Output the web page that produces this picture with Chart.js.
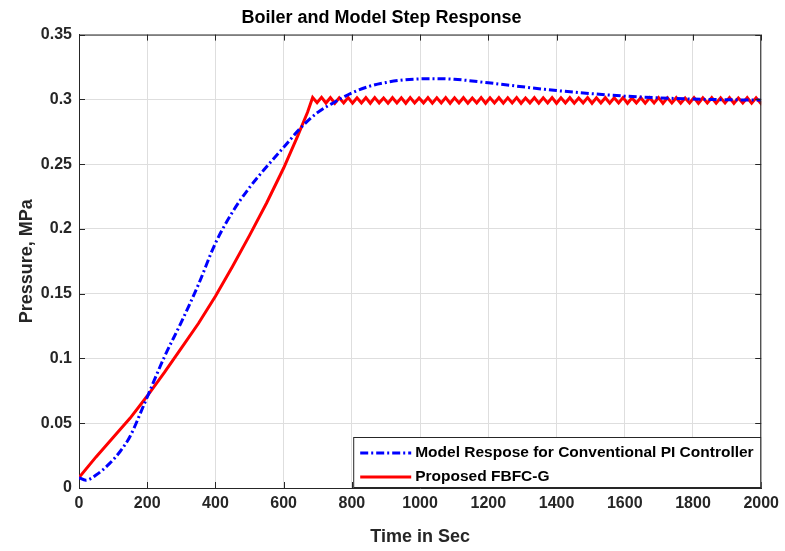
<html><head>
<meta charset="utf-8">
<title>Boiler and Model Step Response</title>
<script src="https://cdn.jsdelivr.net/npm/chart.js"></script>
<style>
body { margin: 0; background: #fff; }
</style>
</head>
<body>
<canvas id="response" width="785" height="551" style="display: block; width: 785px; height: 551px;"></canvas>
<script>
// values
const blueLabel = 'Model Respose for Conventional PI Controller';
const redLabel = 'Proposed FBFC-G';

const blueTime = [0, 20, 50, 90, 120, 150, 190, 250, 300, 350,
    400, 450, 500, 550, 600, 650, 700, 750, 800, 850,
    900, 950, 1000, 1040, 1100, 1200, 1300, 1400, 1500, 1600,
    1700, 1800, 1900, 2000];
const bluePressure = [0.008, 0.006, 0.010, 0.019, 0.028, 0.040, 0.064, 0.101, 0.128, 0.157,
    0.189, 0.213, 0.232, 0.248, 0.263, 0.278, 0.290, 0.298, 0.305, 0.310,
    0.313, 0.315, 0.3158, 0.316, 0.3155, 0.3128, 0.3097, 0.3068, 0.3045, 0.3025,
    0.3012, 0.3002, 0.2997, 0.2995];

const redTime = [0, 50, 100, 150, 200, 250, 300, 350, 400, 450, 500, 550, 600, 640, 670,
    685, 698, 711, 724, 737, 750, 763, 776, 789, 802,
    815, 828, 841, 854, 867, 880, 893, 906, 919, 932,
    945, 958, 971, 984, 997, 1010, 1023, 1036, 1049, 1062,
    1075, 1088, 1101, 1114, 1127, 1140, 1153, 1166, 1179, 1192,
    1205, 1218, 1231, 1244, 1257, 1270, 1283, 1296, 1309, 1322,
    1335, 1348, 1361, 1374, 1387, 1400, 1413, 1426, 1439, 1452,
    1465, 1478, 1491, 1504, 1517, 1530, 1543, 1556, 1569, 1582,
    1595, 1608, 1621, 1634, 1647, 1660, 1673, 1686, 1699, 1712,
    1725, 1738, 1751, 1764, 1777, 1790, 1803, 1816, 1829, 1842,
    1855, 1868, 1881, 1894, 1907, 1920, 1933, 1946, 1959, 1972,
    1985, 1998, 2000];
const redPressure = [0.008, 0.024, 0.039, 0.054, 0.071, 0.089, 0.108, 0.127, 0.148, 0.171, 0.195, 0.220, 0.247, 0.271, 0.290,
    0.3015, 0.2975, 0.3016, 0.2972, 0.3013, 0.2970, 0.3012, 0.2973, 0.3014, 0.2971,
    0.3012, 0.2972, 0.3013, 0.2970, 0.3014, 0.2973, 0.3011, 0.2971, 0.3013, 0.2972,
    0.3012, 0.2970, 0.3014, 0.2972, 0.3011, 0.2973, 0.3013, 0.2971, 0.3012, 0.2972,
    0.3014, 0.2970, 0.3012, 0.2973, 0.3013, 0.2971, 0.3011, 0.2972, 0.3014, 0.2970,
    0.3012, 0.2973, 0.3013, 0.2971, 0.3012, 0.2972, 0.3014, 0.2970, 0.3011, 0.2973,
    0.3013, 0.2971, 0.3012, 0.2972, 0.3014, 0.2970, 0.3012, 0.2973, 0.3013, 0.2971,
    0.3011, 0.2972, 0.3014, 0.2970, 0.3012, 0.2973, 0.3013, 0.2971, 0.3012, 0.2972,
    0.3014, 0.2970, 0.3011, 0.2973, 0.3013, 0.2971, 0.3012, 0.2972, 0.3014, 0.2970,
    0.3012, 0.2973, 0.3013, 0.2971, 0.3011, 0.2972, 0.3014, 0.2970, 0.3012, 0.2973,
    0.3013, 0.2971, 0.3012, 0.2972, 0.3014, 0.2970, 0.3011, 0.2973, 0.3013, 0.2971,
    0.3012, 0.2972, 0.2988];

const FONT = "'Liberation Sans', Arial, sans-serif";
const AXIS_COLOR = '#262626';
const BLUE_DASH = [8, 3, 2, 3];

function points(xs, ys) {
    var out = [];
    for (var i = 0; i < xs.length; i++) {
        out.push({x: xs[i], y: ys[i]});
    }
    return out;
}

// MATLAB style box, inward ticks and legend inside the axes
const matlabBox = {
    id: 'matlabBox',
    afterDatasetsDraw(chart) {
        const ctx = chart.ctx;
        const a = chart.chartArea;
        const xs = chart.scales.x;
        const ys = chart.scales.y;
        ctx.save();
        ctx.strokeStyle = AXIS_COLOR;
        ctx.lineWidth = 1;
        ctx.beginPath();
        ctx.moveTo(a.left, a.top + 0.5);
        ctx.lineTo(a.right - 0.5, a.top + 0.5);
        ctx.lineTo(a.right - 0.5, a.bottom);
        ctx.stroke();
        xs.ticks.forEach(function(t) {
            var px = Math.round(xs.getPixelForValue(t.value)) + 0.5;
            ctx.beginPath();
            ctx.moveTo(px, a.bottom);
            ctx.lineTo(px, a.bottom - 6);
            ctx.moveTo(px, a.top);
            ctx.lineTo(px, a.top + 6);
            ctx.stroke();
        });
        ys.ticks.forEach(function(t) {
            var py = Math.round(ys.getPixelForValue(t.value)) + 0.5;
            ctx.beginPath();
            ctx.moveTo(a.left, py);
            ctx.lineTo(a.left + 6, py);
            ctx.moveTo(a.right, py);
            ctx.lineTo(a.right - 6, py);
            ctx.stroke();
        });

        // legend
        var w = 408, h = 51;
        var left = a.right - w, top = a.bottom - h;
        ctx.fillStyle = '#fff';
        ctx.fillRect(left, top, w, h);
        ctx.strokeRect(left + 0.5, top + 0.5, w - 1, h - 1);
        var ds = chart.data.datasets;
        var rows = [top + 16, top + 40];
        ctx.font = 'bold 15.5px ' + FONT;
        ctx.textBaseline = 'middle';
        for (var i = 0; i < ds.length; i++) {
            ctx.strokeStyle = ds[i].borderColor;
            ctx.lineWidth = ds[i].borderWidth;
            ctx.setLineDash(ds[i].borderDash || []);
            ctx.beginPath();
            ctx.moveTo(left + 7, rows[i]);
            ctx.lineTo(left + 58, rows[i]);
            ctx.stroke();
            ctx.setLineDash([]);
            ctx.fillStyle = '#000';
            ctx.fillText(ds[i].label, left + 62, rows[i]);
        }
        ctx.restore();
    }
};

const config = {
    type: 'scatter',
    data: {
        datasets: [
            {
                label: blueLabel,
                data: points(blueTime, bluePressure),
                borderColor: '#0000ff',
                backgroundColor: '#0000ff',
                borderWidth: 3,
                borderDash: BLUE_DASH,
                showLine: true,
                pointRadius: 0,
                cubicInterpolationMode: 'monotone'
            },
            {
                label: redLabel,
                data: points(redTime, redPressure),
                borderColor: '#ff0000',
                backgroundColor: '#ff0000',
                borderWidth: 3,
                showLine: true,
                pointRadius: 0,
                tension: 0
            }
        ]
    },
    options: {
        responsive: false,
        animation: false,
        layout: {
            padding: {left: 0, right: 22, top: 0, bottom: 0}
        },
        plugins: {
            legend: {display: false},
            tooltip: {enabled: false},
            title: {
                display: true,
                text: 'Boiler and Model Step Response',
                color: '#000',
                font: {family: FONT, size: 18, weight: 'bold', lineHeight: 1.2},
                padding: {top: 7, bottom: 6}
            }
        },
        scales: {
            x: {
                type: 'linear',
                min: 0,
                max: 2000,
                ticks: {
                    stepSize: 200,
                    color: AXIS_COLOR,
                    padding: 6,
                    maxRotation: 0,
                    font: {family: FONT, size: 16, weight: 'bold'},
                    callback: function(v) { return String(v); }
                },
                grid: {color: '#dedede', drawTicks: false},
                border: {color: AXIS_COLOR, width: 1},
                title: {
                    display: true,
                    text: 'Time in Sec',
                    color: AXIS_COLOR,
                    font: {family: FONT, size: 18, weight: 'bold', lineHeight: 1.2},
                    padding: {top: 4, bottom: 3}
                },
                afterFit: function(scale) { scale.height = 63; }
            },
            y: {
                min: 0,
                max: 0.35,
                ticks: {
                    stepSize: 0.05,
                    color: AXIS_COLOR,
                    padding: 7,
                    font: {family: FONT, size: 16, weight: 'bold'},
                    callback: function(v) { return String(Number(v.toFixed(2))); }
                },
                grid: {color: '#dedede', drawTicks: false},
                border: {color: AXIS_COLOR, width: 1},
                title: {
                    display: true,
                    text: 'Pressure, MPa',
                    color: AXIS_COLOR,
                    font: {family: FONT, size: 18, weight: 'bold', lineHeight: 1.2},
                    padding: {top: 16, bottom: 0}
                },
                afterFit: function(scale) { scale.width = 79; }
            }
        }
    },
    plugins: [matlabBox]
};

new Chart(document.getElementById('response'), config);
</script>
</body></html>
